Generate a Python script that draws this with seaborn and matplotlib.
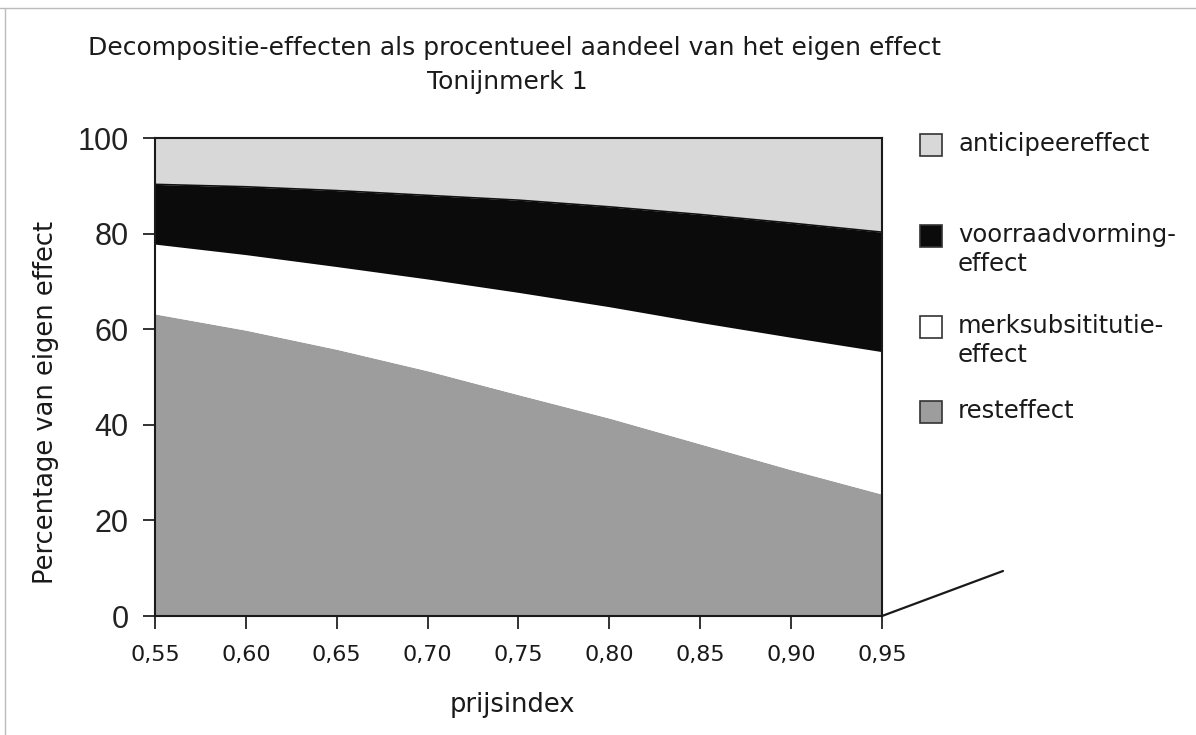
import numpy as np
import pandas as pd
import matplotlib
matplotlib.use("Agg")
import matplotlib.pyplot as plt
from matplotlib.patches import Rectangle
from matplotlib.lines import Line2D
import seaborn as sns

# Data (percent of own effect, stacked bottom -> top)
prijsindex = [0.55, 0.60, 0.65, 0.70, 0.75, 0.80, 0.85, 0.90, 0.95]
resteffect = [63.2, 59.8, 55.8, 51.3, 46.3, 41.4, 36.0, 30.6, 25.5]
merksubstitutie = [14.6, 15.8, 17.3, 19.2, 21.4, 23.3, 25.4, 27.7, 29.8]
voorraadvorming = [12.5, 14.2, 15.9, 17.5, 19.3, 20.9, 22.6, 23.9, 25.0]
anticipeer = [9.7, 10.2, 11.0, 12.0, 13.0, 14.4, 16.0, 17.8, 19.7]

xtick_labels = ["0,55", "0,60", "0,65", "0,70", "0,75", "0,80", "0,85", "0,90", "0,95"]
ytick_values = [0, 20, 40, 60, 80, 100]

legend_labels = ["anticipeereffect", "voorraadvorming-\neffect",
                 "merksubsititutie-\neffect", "resteffect"]

colors = {"rest": "#9d9d9d", "merk": "#ffffff", "voor": "#0b0b0b", "anti": "#d8d8d8"}

sns.set_theme(style="white")
plt.rcParams['font.family'] = ['DejaVu Sans']

df = pd.DataFrame({
    "prijsindex": prijsindex,
    "resteffect": resteffect,
    "merksubstitutie": merksubstitutie,
    "voorraadvorming": voorraadvorming,
    "anticipeer": anticipeer,
})

fig = plt.figure(figsize=(11.96, 7.35), dpi=100)
ax = fig.add_axes([155 / 1196, 1 - 616 / 735, (882 - 155) / 1196, (616 - 138) / 735])

ax.stackplot(df["prijsindex"],
             df["resteffect"], df["merksubstitutie"],
             df["voorraadvorming"], df["anticipeer"],
             colors=[colors["rest"], colors["merk"], colors["voor"], colors["anti"]],
             linewidth=0)

# thin outline of the black band
top_merk = df["resteffect"] + df["merksubstitutie"]
top_voor = top_merk + df["voorraadvorming"]
sns.lineplot(x=df["prijsindex"], y=top_voor, ax=ax, color="#111111", lw=1.2)

ax.set_xlim(0.55, 0.95)
ax.set_ylim(0, 100)
ax.set_xticks(prijsindex)
ax.set_xticklabels(xtick_labels, fontsize=16, color="#1a1a1a")
ax.set_yticks(ytick_values)
ax.set_yticklabels([str(v) for v in ytick_values], fontsize=22, color="#222222",
                   family="Liberation Sans")
ax.tick_params(axis="both", direction="out", length=9, width=1.3, color="#222222",
               bottom=True, left=True)
ax.tick_params(axis="x", pad=12)
ax.tick_params(axis="y", pad=10)
ax.set_xlabel("")
ax.set_ylabel("")
for s in ax.spines.values():
    s.set_color("#1a1a1a")
    s.set_linewidth(1.5)

# floor line (pseudo 3d)
fig.add_artist(Line2D([882 / 1196, 1003 / 1196], [1 - 616 / 735, 1 - 571 / 735],
                      color="#1a1a1a", lw=1.6))

# scan frame
fig.add_artist(Line2D([0.0, 1.0], [1 - 8 / 735, 1 - 8 / 735], color="#bbbbbb", lw=1.0))
fig.add_artist(Line2D([5 / 1196, 5 / 1196], [0.0, 1 - 8 / 735], color="#bbbbbb", lw=1.0))

# titles and labels
fig.text(515 / 1196, 1 - 48 / 735,
         "Decompositie-effecten als procentueel aandeel van het eigen effect",
         ha="center", va="center", fontsize=18, color="#1a1a1a")
fig.text(507 / 1196, 1 - 82 / 735, "Tonijnmerk 1",
         ha="center", va="center", fontsize=18, color="#1a1a1a")
fig.text(46 / 1196, 1 - 402 / 735, "Percentage van eigen effect", rotation=90,
         ha="center", va="center", fontsize=18.5, color="#1a1a1a")
fig.text(512 / 1196, 1 - 705 / 735, "prijsindex",
         ha="center", va="center", fontsize=18.5, color="#1a1a1a")

# legend drawn by hand so the box lines up with the first text line
legend_colors = [colors["anti"], colors["voor"], colors["merk"], colors["rest"]]
legend_y = [145, 236, 327, 412]
for lab, col, y in zip(legend_labels, legend_colors, legend_y):
    fig.add_artist(Rectangle((920 / 1196, 1 - (y + 11) / 735), 22 / 1196, 22 / 735,
                             facecolor=col, edgecolor="#333333", lw=1.2))
    fig.text(958 / 1196, 1 - (y - 13) / 735, lab, ha="left", va="top",
             fontsize=17.5, color="#1a1a1a", linespacing=1.25)

fig.savefig("out.png", dpi=100)
